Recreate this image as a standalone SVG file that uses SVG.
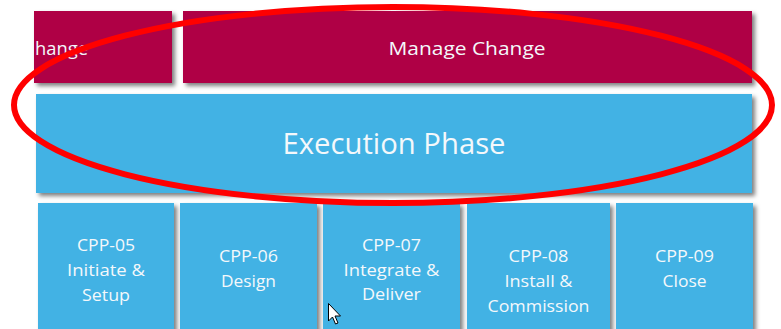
<svg xmlns="http://www.w3.org/2000/svg" width="781" height="329" viewBox="0 0 781 329">
  <style>
    .crimson { fill: #AF0044; }
    .blue { fill: #42B2E4; }
    .box { filter: url(#shadow); }
    .lbl { font-family: "Open Sans", "Noto Sans", "DejaVu Sans", sans-serif; fill: #F4F8FB; text-anchor: middle; }
    .top { font-size: 18px; }
    .phase { font-size: 29px; }
    .step { font-size: 17px; }
    .ring { fill: none; stroke: #FF0000; stroke-width: 6; }
  </style>
  <defs>
    <filter id="shadow" x="-10%" y="-10%" width="130%" height="140%">
      <feDropShadow dx="3" dy="3" stdDeviation="2" flood-color="#000" flood-opacity="0.5"/>
    </filter>
  </defs>
  <rect width="781" height="329" fill="#FFFFFF"/>

  <!-- change management row -->
  <g id="manage-change-left">
    <rect class="crimson box" x="34" y="11" width="138" height="72"/>
    <text class="lbl top" x="88" y="55" text-anchor="end" style="text-anchor:end" textLength="53" lengthAdjust="spacingAndGlyphs">hange</text>
  </g>
  <g id="manage-change">
    <rect class="crimson box" x="183" y="11" width="569" height="72"/>
    <text class="lbl top" x="467" y="55" textLength="157" lengthAdjust="spacingAndGlyphs">Manage Change</text>
  </g>

  <!-- phase band -->
  <g id="execution-phase">
    <rect class="blue box" x="36" y="94" width="716" height="99"/>
    <text class="lbl phase" x="394" y="154" textLength="223" lengthAdjust="spacingAndGlyphs">Execution Phase</text>
  </g>

  <!-- process steps -->
  <g id="cpp-05">
    <rect class="blue box" x="38" y="203" width="136" height="140"/>
    <text class="lbl step" x="106" y="251" textLength="58" lengthAdjust="spacingAndGlyphs">CPP-05</text>
    <text class="lbl step" x="106" y="276" textLength="78" lengthAdjust="spacingAndGlyphs">Initiate &amp;</text>
    <text class="lbl step" x="106" y="301" textLength="48" lengthAdjust="spacingAndGlyphs">Setup</text>
  </g>
  <g id="cpp-06">
    <rect class="blue box" x="180" y="203" width="137" height="140"/>
    <text class="lbl step" x="248.5" y="262" textLength="59" lengthAdjust="spacingAndGlyphs">CPP-06</text>
    <text class="lbl step" x="248.5" y="287" textLength="55" lengthAdjust="spacingAndGlyphs">Design</text>
  </g>
  <g id="cpp-07">
    <rect class="blue box" x="323" y="203" width="137" height="140"/>
    <text class="lbl step" x="391.5" y="251" textLength="59" lengthAdjust="spacingAndGlyphs">CPP-07</text>
    <text class="lbl step" x="391.5" y="276" textLength="96" lengthAdjust="spacingAndGlyphs">Integrate &amp;</text>
    <text class="lbl step" x="391.5" y="300" textLength="59" lengthAdjust="spacingAndGlyphs">Deliver</text>
  </g>
  <g id="cpp-08">
    <rect class="blue box" x="467" y="203" width="143" height="140"/>
    <text class="lbl step" x="538.5" y="262" textLength="60" lengthAdjust="spacingAndGlyphs">CPP-08</text>
    <text class="lbl step" x="538.5" y="287" textLength="68" lengthAdjust="spacingAndGlyphs">Install &amp;</text>
    <text class="lbl step" x="538.5" y="312" textLength="102" lengthAdjust="spacingAndGlyphs">Commission</text>
  </g>
  <g id="cpp-09">
    <rect class="blue box" x="616" y="203" width="137" height="140"/>
    <text class="lbl step" x="684.5" y="262" textLength="59" lengthAdjust="spacingAndGlyphs">CPP-09</text>
    <text class="lbl step" x="684.5" y="287" textLength="44" lengthAdjust="spacingAndGlyphs">Close</text>
  </g>

  <!-- highlight ring and pointer -->
  <g id="connectors">
    <ellipse class="ring" cx="393" cy="105" rx="379" ry="98"/>
  </g>
  <path d="M328.5,303.5 L328.5,321 L332.5,317 L335.5,324 L338,323 L335,316 L340.5,316 Z" fill="#FFFFFF" stroke="#000000" stroke-width="1" stroke-linejoin="round"/>
</svg>
